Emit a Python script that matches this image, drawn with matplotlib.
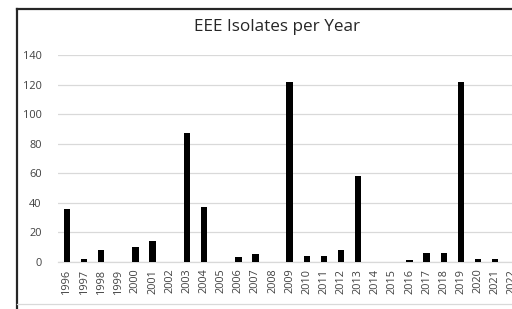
import matplotlib.pyplot as plt
from matplotlib.lines import Line2D

years = [str(y) for y in range(1996, 2023)]
isolates = [36, 2, 8, 0, 10, 14, 0, 87, 37, 0, 3, 5, 0, 122, 4, 4, 8, 58,
            0, 0, 1, 6, 6, 122, 2, 2, 0]
yticks = [0, 20, 40, 60, 80, 100, 120, 140]

W, H = 512, 309
fig = plt.figure(figsize=(W / 100, H / 100), dpi=100)
plt.rcParams['font.family'] = ['Open Sans', 'DejaVu Sans']

# plot area in pixels (extends past right edge, chart is cropped)
x0, x1 = 58.4, 520.9
y_top, y_bot = 55.0, 261.7
ax = fig.add_axes([x0 / W, 1 - y_bot / H, (x1 - x0) / W, (y_bot - y_top) / H])

xs = range(len(years))
ax.bar(xs, isolates, width=0.38, color='black', zorder=3)
ax.set_xlim(-0.5, len(years) - 0.5)
ax.set_ylim(0, 140)
ax.set_yticks(yticks)
ax.set_xticks(list(xs))
ax.set_xticklabels(years, rotation=90, fontsize=7.8, color='#404040')
ax.tick_params(axis='y', labelsize=7.9, labelcolor='#404040', length=0, pad=12)
ax.tick_params(axis='x', length=0, pad=5)
ax.grid(axis='y', color='#d9d9d9', linewidth=0.9, zorder=0)
for s in ['top', 'right', 'left']:
    ax.spines[s].set_visible(False)
ax.spines['bottom'].set_color('#d9d9d9')
ax.spines['bottom'].set_linewidth(0.9)

fig.text(277 / W, 1 - 27 / H, 'EEE Isolates per Year', ha='center', va='center',
         fontsize=12.3, color='#262626')

# outer chart frame (cropped)
fig.add_artist(Line2D([17 / W, 1.0], [1 - 9 / H, 1 - 9 / H], color='#262626', linewidth=1.6))
fig.add_artist(Line2D([17 / W, 17 / W], [0, 1 - 9 / H], color='#262626', linewidth=1.6))
fig.add_artist(Line2D([17 / W, 1.0], [1 - 304 / H, 1 - 304 / H], color='#d9d9d9', linewidth=0.9))

fig.savefig('out.png', dpi=100)
